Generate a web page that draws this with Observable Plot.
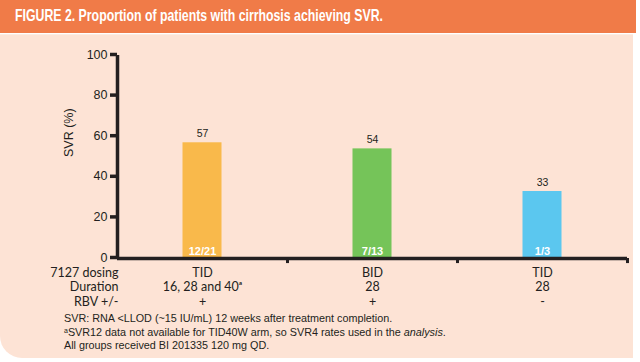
<!DOCTYPE html>
<html>
<head>
<meta charset="utf-8">
<script src="https://cdn.jsdelivr.net/npm/d3@7"></script>
<script src="https://cdn.jsdelivr.net/npm/@observablehq/plot@0.6"></script>
<style>
  html, body { margin: 0; padding: 0; background: #fff; }
  #wrap { position: relative; width: 640px; height: 362px; overflow: hidden; background: #fff; }
  #header { position: absolute; left: 0; top: 0; width: 636px; height: 33px; background: #F07B48; }
  #title { position: absolute; left: 15px; top: 6px; font-family: "Liberation Sans", Arial, sans-serif; font-weight: bold; font-size: 17px; color: #fff; white-space: nowrap; transform-origin: 0 0; }
  #panel { position: absolute; left: 0; top: 34px; width: 633px; height: 323px; background: #FDE3D5; border-bottom-left-radius: 22px; border-top: 1px solid #FBEDE4; }
  #chart { position: absolute; left: 0; top: 34px; }
  #notes { position: absolute; left: 64px; top: 312px; font-family: "Liberation Sans", Arial, sans-serif; font-size: 10.8px; line-height: 13.5px; color: #231F20; white-space: nowrap; }
  #notes sup { font-size: 7px; vertical-align: 3px; line-height: 0; }
</style>
</head>
<body>
<div id="wrap">
  <div id="header"><div id="title">FIGURE 2. Proportion of patients with cirrhosis achieving SVR.</div></div>
  <div id="panel"></div>
  <div id="chart"></div>
  <div id="notes">
    <div>SVR: RNA &lt;LLOD (~15 IU/mL) 12 weeks after treatment completion.</div>
    <div><sup>a</sup>SVR12 data not available for TID40W arm, so SVR4 rates used in the <i>analysis</i>.</div>
    <div>All groups received BI 201335 120 mg QD.</div>
  </div>
</div>
<script>
const dosing = ["TID", "BID", "TID"];
const duration = ["16, 28 and 40\u1d43", "28", "28"];
const rbv = ["+", "+", "-"];
const svr = [57, 54, 33];
const counts = ["12/21", "7/13", "1/3"];
const barColors = ["#F9B94B", "#75C459", "#5BC7EF"];
const rowLabels = ["7127 dosing", "Duration", "RBV +/-"];
const yTicks = [0, 20, 40, 60, 80, 100];
const yTitle = "SVR (%)";

const data = dosing.map((d, i) => ({
  label: `${d}\n${duration[i]}\n${rbv[i]}`,
  svr: svr[i],
  count: counts[i],
  color: barColors[i]
}));
const labels = data.map(d => d.label);
const ink = "#231F20";
const catFont = "Lato, 'Open Sans', sans-serif";

const chart = Plot.plot({
  width: 640,
  height: 290,
  marginLeft: 117,
  marginRight: 13,
  marginTop: 21,
  marginBottom: 66,
  style: { background: "transparent", fontFamily: "'Liberation Sans', Arial, sans-serif", color: ink, overflow: "visible" },
  x: { domain: labels, padding: 0, axis: null },
  y: { domain: [0, 100], axis: null },
  marks: [
    Plot.barY(data, { x: "label", y: "svr", fill: "color", insetLeft: 65.5, insetRight: 65.5 }),
    Plot.axisY({ ticks: yTicks, tickSize: 7, tickPadding: 3, strokeWidth: 3.5, stroke: ink, fontSize: 12.5, fill: ink, label: null, dy: -1 }),
    Plot.text([yTitle], { frameAnchor: "left", rotate: -90, dx: -49, fontSize: 12.5, fill: ink }),
    Plot.ruleX([labels[0]], { y1: 0, y2: 100, dx: -85, stroke: ink, strokeWidth: 3.5 }),
    Plot.ruleY([0], { stroke: ink, strokeWidth: 3.5 }),
    Plot.ruleX(data, { x: "label", y1: 0, y2: -2.5, dx: 85, stroke: ink, strokeWidth: 3 }),
    Plot.text(data, { x: "label", y: "svr", text: d => String(d.svr), dy: -9, fontSize: 10.5, fill: ink }),
    Plot.text(data, { x: "label", y: 0, text: "count", dy: -7, fill: "white", fontWeight: "bold", fontSize: 11 }),
    Plot.text(data, { x: "label", y: 0, text: "label", lineAnchor: "top", dy: 8, lineHeight: 1.16, fontSize: 12.5, fill: ink, fontFamily: catFont }),
    Plot.text([rowLabels.join("\n")], { x: () => labels[0], y: () => 0, text: d => d, dx: -84, textAnchor: "end", lineAnchor: "top", dy: 8, lineHeight: 1.16, fontSize: 12.5, fill: ink, fontFamily: catFont })
  ]
});
document.getElementById("chart").appendChild(chart);

const title = document.getElementById("title");
const w = title.getBoundingClientRect().width;
title.style.transform = `scaleX(${368 / w})`;
</script>
</body>
</html>
